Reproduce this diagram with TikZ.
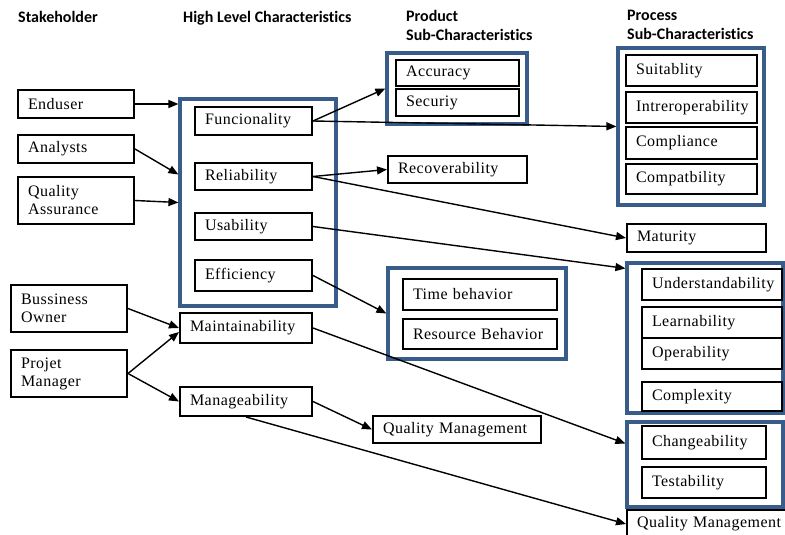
\documentclass[tikz,border=0pt]{standalone}
\usepackage{fontspec}
\setmainfont{Liberation Serif}[LetterSpace=3]
\newfontfamily\headfont[Ligatures=NoCommon]{Carlito}
\usetikzlibrary{arrows.meta,calc}
\definecolor{grpblue}{RGB}{56,93,138}
\newcommand{\qbox}[7][qbox]{%
  \pgfmathsetmacro\qw{#5-#3}%
  \pgfmathsetmacro\qh{#6-#4}%
  \pgfmathsetmacro\qt{#5-#3-20}%
  \node[#1, minimum width=\qw pt, minimum height=\qh pt, text width=\qt pt]
    (#2) at ({(#3+#5)/2},{(#4+#6)/2}) {#7};}

\begin{document}
\begin{tikzpicture}[x=1pt, y=-1pt,
    qbox/.style={draw, fill=white, line width=2pt, inner xsep=10pt, inner ysep=0pt,
      align=left, font=\fontsize{16}{18}\selectfont},
    grp/.style={draw=grpblue, line width=3.2pt, inner sep=0pt},
    head/.style={anchor=north west, align=left, inner sep=0pt,
      font=\headfont\bfseries\fontsize{16}{19}\selectfont},
    link/.style={-{Triangle[length=10pt,width=8pt]}, line width=1.4pt}]
    \useasboundingbox (0,0) rectangle (785,535);
    \clip (0,0) rectangle (785,535); % keeps the cut box at the bottom

    % column titles
    \node[head] (hstake) at (18,11) {Stakeholder};
    \node[head] (hhigh) at (183,11) {High Level Characteristics};
    \node[head] (hprod) at (406,10) {Product\\Sub-Characteristics};
    \node[head] (hproc) at (627,10) {Process\\Sub-Characteristics};

    % stakeholders
    \qbox{enduser}{18}{90}{134}{118}{Enduser}
    \qbox{analysts}{18}{135}{134}{163}{Analysts}
    \qbox{qa}{18}{177}{134}{224}{Quality\\Assurance}
    \qbox{owner}{11}{285}{127}{332}{Bussiness\\Owner}
    \qbox{pm}{11}{350}{127}{397}{Projet\\Manager}

    % high level characteristics
    \qbox[grp]{hlc}{180}{99}{336}{306}{}
    \foreach \nm/\ya/\yb/\txt in {func/107/135/Funcionality, rel/163/190/Reliability,
        usab/213/240/Usability, eff/260/291/Efficiency}{
        \qbox{\nm}{195}{\ya}{312}{\yb}{\txt}
    }
    \qbox{maint}{180}{313}{312}{343}{Maintainability}
    \qbox{manag}{180}{387}{312}{416}{Manageability}

    % product sub-characteristics
    \qbox[grp]{prodA}{387}{53}{527}{124}{}
    \qbox{accur}{396}{60}{519}{86}{Accuracy}
    \qbox{secur}{396}{89}{519}{116}{Securiy}
    \qbox{recov}{388}{156}{527}{183}{Recoverability}
    \qbox[grp]{prodB}{388}{268}{566}{359}{}
    \qbox{timeb}{403}{279}{557}{310}{Time behavior}
    \qbox{resb}{403}{319}{557}{349}{Resource Behavior}
    \qbox{qmA}{373}{416}{541}{443}{Quality Management}

    % process sub-characteristics
    \qbox[grp]{procA}{618}{48}{764}{205}{}
    \foreach \nm/\ya/\yb/\txt in {suit/55/86/Suitablity, inter/92/123/Intreroperability,
        compl/127/159/Compliance, compat/164/194/Compatbility}{
        \qbox{\nm}{626}{\ya}{757}{\yb}{\txt}
    }
    \qbox{matur}{627}{224}{766}{252}{Maturity}
    \qbox[grp]{procB}{627}{263}{783}{413}{}
    \foreach \nm/\ya/\yb/\txt in {under/269/300/Understandability, learn/307/338/Learnability,
        oper/338/369/Operability, cplx/382/411/Complexity}{
        \qbox{\nm}{642}{\ya}{782}{\yb}{\txt}
    }
    \qbox[grp]{procC}{627}{422}{783}{507}{}
    \qbox{chg}{642}{426}{766}{459}{Changeability}
    \qbox{test}{642}{467}{766}{498}{Testability}
    \qbox{qmB}{627}{510}{815}{538}{Quality Management} % runs off the right edge

    % links
    \draw[link] (enduser.east) -- (enduser.east -| hlc.west);
    \draw[link] (analysts.east) -- ([yshift=28]hlc.west);
    \draw[link] (qa.east) -- (hlc.west);
    \draw[link] (func.east) -- (prodA.west);
    \draw[link] (func.east) -- (procA.west);
    \draw[link] (rel.east) -- (recov.west);
    \draw[link] (rel.east) -- (matur.west);
    \draw[link] (usab.east) -- ([yshift=-7]procB.north west);
    \draw[link] (eff.east) -- (prodB.west);
    \draw[link] (owner.east) -- (maint.west);
    \draw[link] (pm.east) -- ([yshift=-4]maint.west);
    \draw[link] (pm.east) -- (manag.west);
    \draw[link] (maint.east) -- ([yshift=21]procC.west);
    \draw[link] (manag.east) -- (qmA.west);
    \draw[link] (manag.south) -- (qmB.west);
\end{tikzpicture}
\end{document}
